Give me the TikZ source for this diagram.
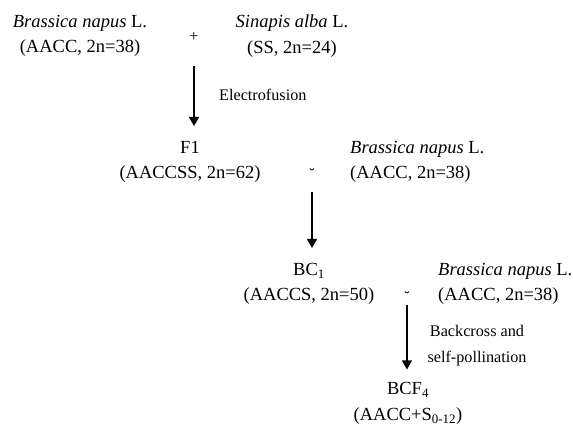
\documentclass[tikz,border=0pt]{standalone}
\usepackage{fontspec}
\setmainfont{Liberation Serif}
\usetikzlibrary{arrows.meta}

\tikzset{
  taxon/.style={align=center, inner sep=0pt, font=\fontsize{18.5}{25.5}\selectfont},
  taxonleft/.style={align=left, anchor=west, inner sep=0pt, font=\fontsize{18.5}{25.5}\selectfont},
  note/.style={inner sep=0pt, font=\fontsize{16.2}{26}\selectfont},
  crossmark/.style={inner sep=0pt, font=\fontsize{16}{18}\selectfont},
  arr/.style={-{Triangle[length=9pt,width=10pt]}, line width=1.2pt}
}

\begin{document}
\begin{tikzpicture}[x=1pt, y=-1pt]
\useasboundingbox (0, 0) rectangle (573, 426);

% parents
\node[taxon] (napusA) at (80, 36) {\textit{Brassica napus} L.\\(AACC, 2n=38)};
\node[crossmark] (cross1) at (194, 37) {+};
\node[taxon] (alba) at (292, 36) {\textit{Sinapis alba} L.\\(SS, 2n=24)};

% first generation
\node[taxon] (f1) at (190, 162) {F1\\(AACCSS, 2n=62)};
\node[crossmark] (cross2) at (312, 174) {\char"02D8};
\node[taxonleft] (napusB) at (350, 162) {\textit{Brassica napus} L.\\(AACC, 2n=38)};

% backcross
\node[taxon] (bc1) at (309, 284) {BC\textsubscript{1}\\(AACCS, 2n=50)};
\node[crossmark] (cross3) at (407, 297) {\char"02D8};
\node[taxonleft] (napusC) at (438, 284) {\textit{Brassica napus} L.\\(AACC, 2n=38)};

% final line
\node[taxon] (bcf4) at (408, 403.5) {BCF\textsubscript{4}\\(AACC+S\textsubscript{0-12})};

\draw[arr, shorten <=24pt, shorten >=15pt] (cross1) -- (cross1 |- f1.north);
\node[note, anchor=base west] (fusion) at (219, 100) {Electrofusion};

\draw[arr, shorten <=12pt, shorten >=15pt] (cross2) -- (cross2 |- bc1.north);

\draw[arr, shorten <=2pt, shorten >=13pt] (cross3) -- (cross3 |- bcf4.north);
\node[note, align=center] (backx) at (477, 346) {Backcross and\\self-pollination};
\end{tikzpicture}
\end{document}
